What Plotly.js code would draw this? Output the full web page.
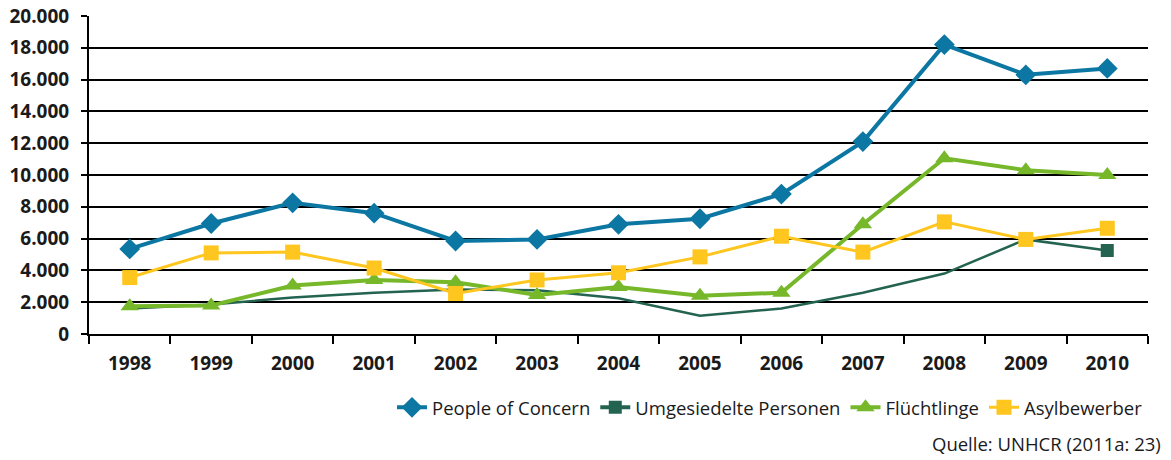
<!DOCTYPE html>
<html><head><meta charset="utf-8">
<script src="https://cdn.plot.ly/plotly-3.0.1.min.js"></script>
<style>html,body{margin:0;padding:0;background:#fff}#c{width:1171px;height:460px}</style>
</head><body><div id="c"></div>
<script>
const years = ['1998','1999','2000','2001','2002','2003','2004','2005','2006','2007','2008','2009','2010'];
const peopleOfConcern = [5350, 6950, 8250, 7600, 5850, 5950, 6900, 7250, 8800, 12100, 18200, 16300, 16700];
const umgesiedelte = [1600, 1850, 2300, 2600, 2800, 2750, 2250, 1150, 1600, 2600, 3800, 5950, 5250];
const fluechtlinge = [1750, 1800, 3050, 3400, 3250, 2450, 2950, 2400, 2600, 6900, 11050, 10300, 10000];
const asylbewerber = [3550, 5100, 5150, 4150, 2550, 3400, 3850, 4850, 6150, 5150, 7050, 5950, 6650];
const seriesNames = ['People of Concern', 'Umgesiedelte Personen', 'Flüchtlinge', 'Asylbewerber'];
const sourceText = 'Quelle: UNHCR (2011a: 23)';

const TICKFONT = 'Open Sans, sans-serif';
const TEXTFONT = 'Open Sans, sans-serif';
const last = years.length - 1;
const traces = [
  {x: years, y: peopleOfConcern, name: seriesNames[0], mode: 'lines+markers',
   line: {color: '#0b77a2', width: 4}, marker: {symbol: 'diamond', size: 16, color: '#0b77a2'}},
  {x: years, y: umgesiedelte, name: seriesNames[1], mode: 'lines', showlegend: false,
   legendgroup: 'u', line: {color: '#236350', width: 2.5}},
  {x: [years[last]], y: [umgesiedelte[last]], name: seriesNames[1], mode: 'lines+markers',
   legendgroup: 'u', line: {color: '#236350', width: 4},
   marker: {symbol: 'square', color: '#236350', size: 13}},
  {x: years, y: fluechtlinge, name: seriesNames[2], mode: 'lines+markers',
   line: {color: '#76b82a', width: 4}, marker: {symbol: 'triangle-up', size: 16, color: '#76b82a'}},
  {x: years, y: asylbewerber, name: seriesNames[3], mode: 'lines+markers',
   line: {color: '#fec61e', width: 3}, marker: {symbol: 'square', size: 15, color: '#fec61e'}}
];

const layout = {
  width: 1171, height: 460,
  margin: {l: 89, r: 23, t: 16, b: 126},
  paper_bgcolor: '#fff', plot_bgcolor: '#fff',
  separators: ',.',
  font: {family: TEXTFONT, color: '#1a1a1a', size: 18.5},
  showlegend: true,
  legend: {orientation: 'h', x: 1, xanchor: 'right', y: -0.232, yanchor: 'middle',
           font: {family: TEXTFONT, size: 18.5, color: '#1a1a1a'}, traceorder: 'normal',
           itemwidth: 30, bgcolor: 'rgba(0,0,0,0)'},
  xaxis: {type: 'category', range: [-0.5, 12.5], showgrid: false, showline: true,
          linecolor: '#000', linewidth: 2, ticks: 'outside', tickson: 'boundaries',
          ticklen: 8, tickwidth: 2, tickcolor: '#000', ticklabelstandoff: 11,
          tickfont: {family: TICKFONT, size: 19, color: '#1a1a1a', weight: 'bold'}, fixedrange: true},
  yaxis: {range: [0, 20000], dtick: 2000, tickformat: ',d', showgrid: true,
          gridcolor: '#000', gridwidth: 2, showline: true, linecolor: '#000', linewidth: 2,
          ticks: 'outside', ticklen: 6, tickwidth: 2, tickcolor: '#000', zeroline: false,
          ticklabelstandoff: 8,
          tickfont: {family: TICKFONT, size: 19, color: '#1a1a1a', weight: 'bold'}, fixedrange: true},
  annotations: [{text: sourceText, xref: 'paper', yref: 'paper', x: 1, y: -0.345,
                 xanchor: 'right', yanchor: 'middle', xshift: 15, showarrow: false,
                 font: {family: TEXTFONT, size: 18.5, color: '#1a1a1a'}}]
};
Plotly.newPlot('c', traces, layout, {displayModeBar: false, staticPlot: true});
</script></body></html>
